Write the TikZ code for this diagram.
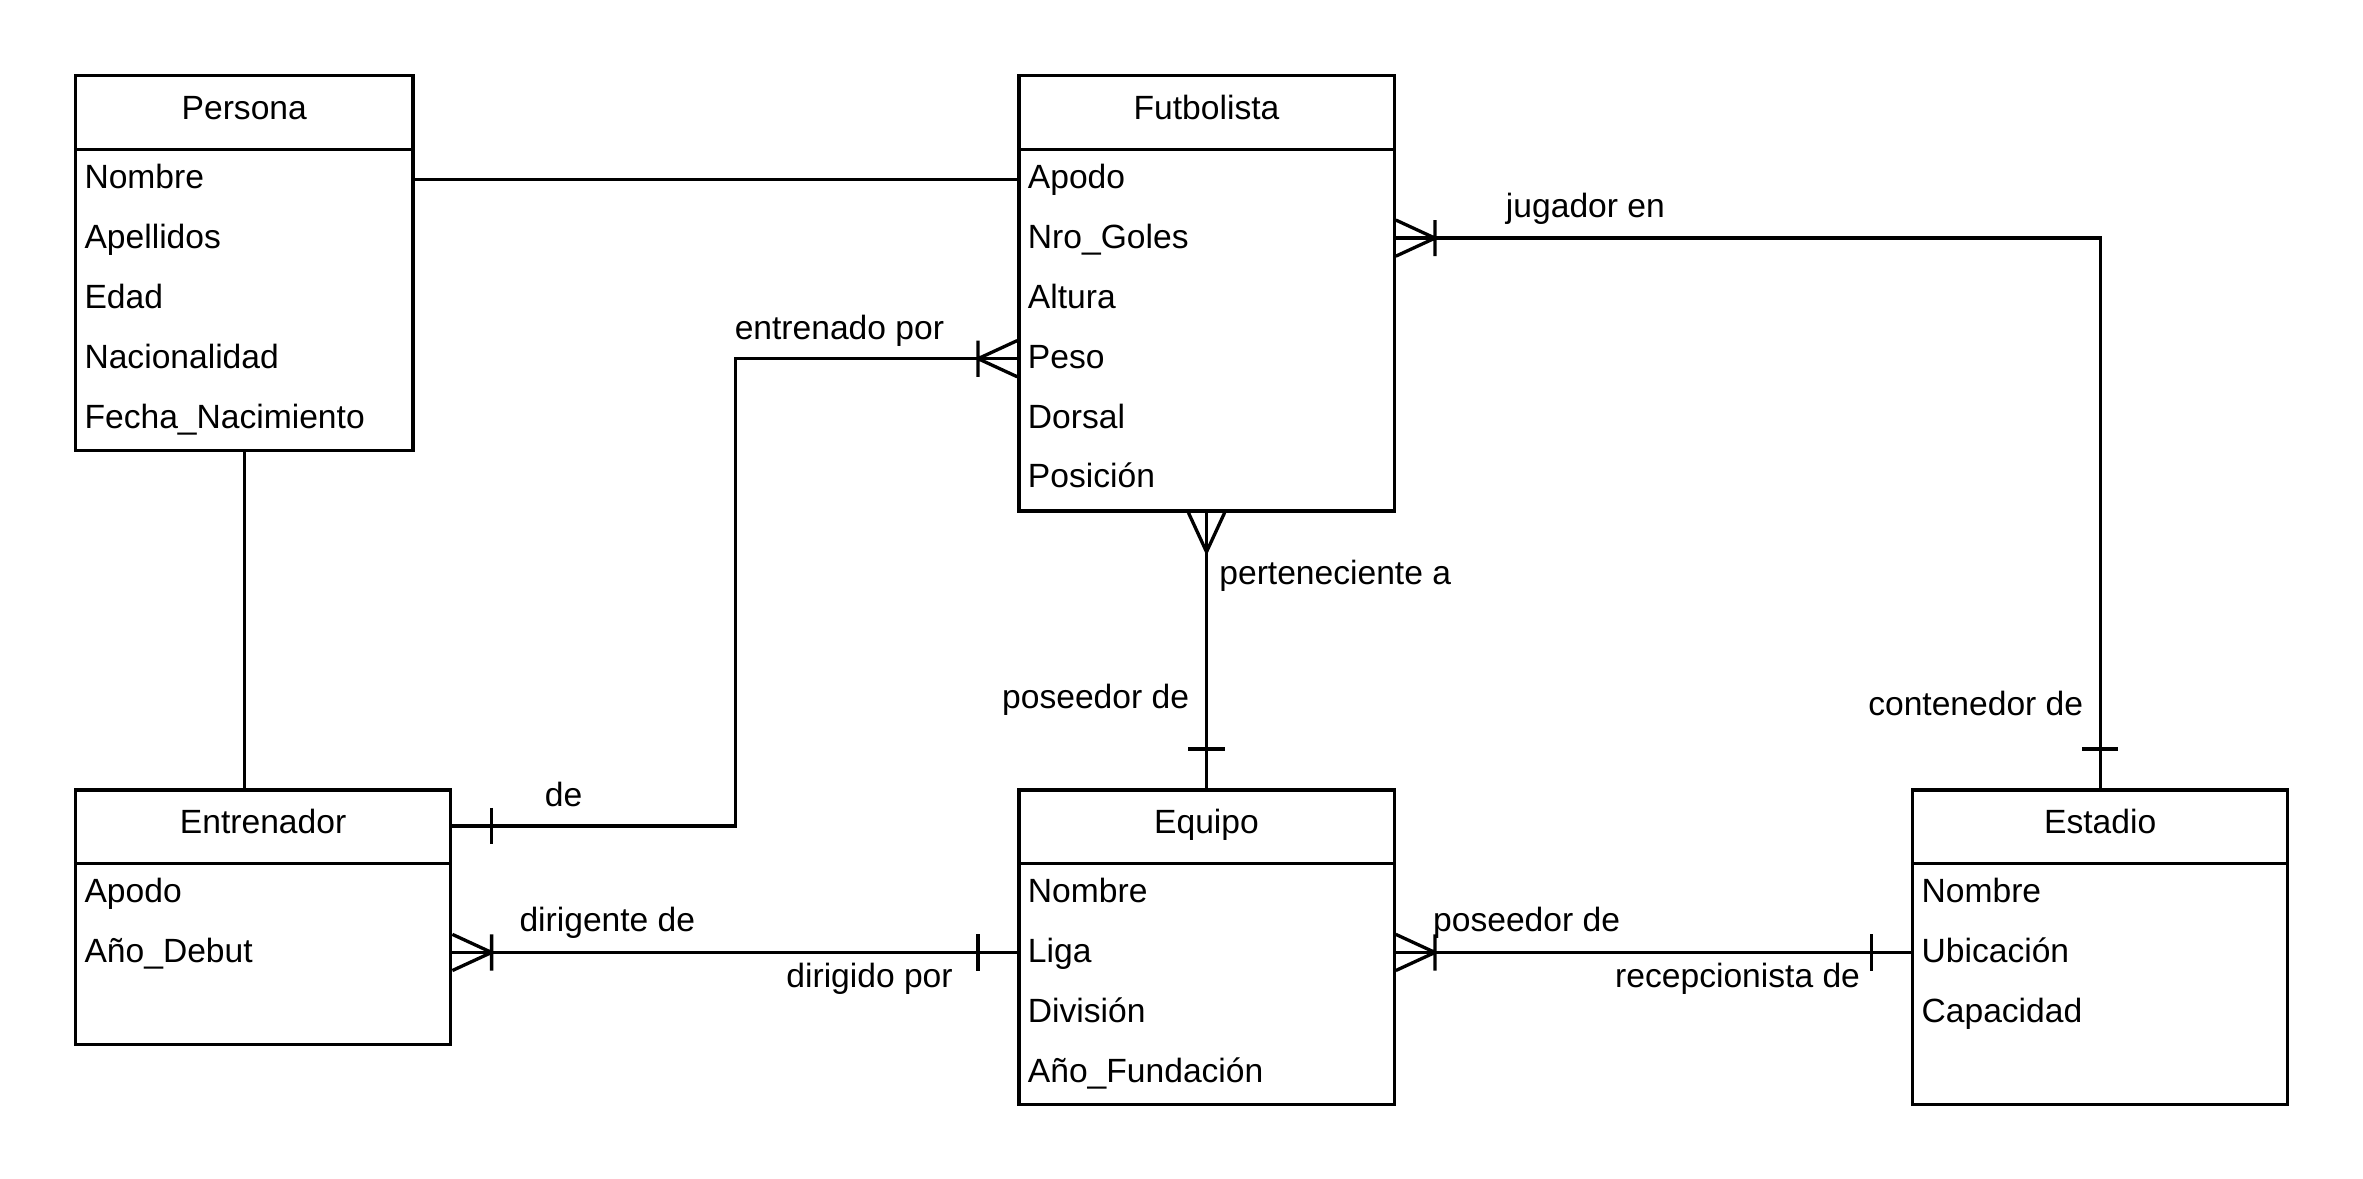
\documentclass[tikz,border=0pt]{standalone}
\usepackage{fontspec}
\setmainfont{Liberation Sans}
\usetikzlibrary{calc}
\newcommand\erfont{\fontsize{22.3}{26}\selectfont}
\begin{document}
\begin{tikzpicture}[x=1pt,y=-1pt,line width=2.2pt,
  every node/.style={font=\erfont, inner sep=0pt},
  ent/.style={draw, line width=2.2pt, anchor=north west, inner sep=0pt, minimum width=249pt},
  attr/.style={anchor=base west},
  ttl/.style={anchor=base},
  lbl/.style={anchor=base}]
\useasboundingbox (0,0) rectangle (1568,782.3);
\fill[white] (0,0) rectangle (1568,782.3);

% ---------- entities ----------
\node[ent, minimum width=224pt, minimum height=249pt] (persona) at (49,49) {};
\node[ent, minimum height=289pt] (futb) at (675,49) {};
\node[ent, minimum height=169pt] (entr) at (49,523) {};
\node[ent, minimum height=209pt] (equipo) at (675,523) {};
\node[ent, minimum height=209pt] (estadio) at (1268,523) {};

\foreach \e in {persona,futb,entr,equipo,estadio}
  \draw ([yshift=-50pt]\e.north west) -- ([yshift=-50pt]\e.north east);

\node[ttl] (personaT) at ([yshift=-30pt]persona.north) {Persona};
\node[ttl] (futbT) at ([yshift=-30pt]futb.north) {Futbolista};
\node[ttl] (entrT) at ([yshift=-30pt]entr.north) {Entrenador};
\node[ttl] (equipoT) at ([yshift=-30pt]equipo.north) {Equipo};
\node[ttl] (estadioT) at ([yshift=-30pt]estadio.north) {Estadio};

\foreach \t [count=\i from 0] in {Nombre,Apellidos,Edad,Nacionalidad,Fecha\_Nacimiento}
  \node[attr] (pa\i) at (55,125+39.75*\i) {\t};
\foreach \t [count=\i from 0] in {Apodo,Nro\_Goles,Altura,Peso,Dorsal,Posición}
  \node[attr] (fa\i) at (681,125+39.75*\i) {\t};
\foreach \t [count=\i from 0] in {Apodo,Año\_Debut}
  \node[attr] (ea\i) at (55,599+39.75*\i) {\t};
\foreach \t [count=\i from 0] in {Nombre,Liga,División,Año\_Fundación}
  \node[attr] (qa\i) at (681,599+39.75*\i) {\t};
\foreach \t [count=\i from 0] in {Nombre,Ubicación,Capacidad}
  \node[attr] (sa\i) at (1274,599+39.75*\i) {\t};

% ---------- connectors ----------
% Persona - Futbolista
\draw ([yshift=-70pt]persona.north east) -- ([yshift=-70pt]futb.north west);
% Persona - Entrenador
\draw (persona.south) -- (persona.south |- entr.north);

% Entrenador - Futbolista (entrenado por)
\coordinate (c3a) at ([yshift=-25pt]entr.north east);
\coordinate (c3b) at ([yshift=-189pt]futb.north west);
\draw (c3a) -- ++(188,0) |- (c3b);
\draw ([xshift=26pt,yshift=12pt]c3a) -- ([xshift=26pt,yshift=-12pt]c3a);
\draw ([xshift=-26pt]c3b) -- ([yshift=12pt]c3b)
      ([xshift=-26pt]c3b) -- ([yshift=-12pt]c3b)
      ([xshift=-26pt,yshift=12pt]c3b) -- ([xshift=-26pt,yshift=-12pt]c3b);

% Futbolista - Estadio (jugador en)
\coordinate (c4a) at ([yshift=-109pt]futb.north east);
\draw (c4a) -| (estadio.north);
\draw ([xshift=26pt]c4a) -- ([yshift=12pt]c4a)
      ([xshift=26pt]c4a) -- ([yshift=-12pt]c4a)
      ([xshift=26pt,yshift=12pt]c4a) -- ([xshift=26pt,yshift=-12pt]c4a);
\draw ([xshift=-12pt,yshift=26pt]estadio.north) -- ([xshift=12pt,yshift=26pt]estadio.north);

% Futbolista - Equipo (perteneciente a)
\draw (futb.south) -- (equipo.north);
\draw ([yshift=-26pt]futb.south) -- ([xshift=-12pt]futb.south)
      ([yshift=-26pt]futb.south) -- ([xshift=12pt]futb.south);
\draw ([xshift=-12pt,yshift=26pt]equipo.north) -- ([xshift=12pt,yshift=26pt]equipo.north);

% Entrenador - Equipo (dirigente de)
\coordinate (c6a) at ([yshift=-109pt]entr.north east);
\coordinate (c6b) at ([yshift=-109pt]equipo.north west);
\draw (c6a) -- (c6b);
\draw ([xshift=26pt]c6a) -- ([yshift=12pt]c6a)
      ([xshift=26pt]c6a) -- ([yshift=-12pt]c6a)
      ([xshift=26pt,yshift=12pt]c6a) -- ([xshift=26pt,yshift=-12pt]c6a);
\draw ([xshift=-26pt,yshift=12pt]c6b) -- ([xshift=-26pt,yshift=-12pt]c6b);

% Equipo - Estadio (poseedor de)
\coordinate (c7a) at ([yshift=-109pt]equipo.north east);
\coordinate (c7b) at ([yshift=-109pt]estadio.north west);
\draw (c7a) -- (c7b);
\draw ([xshift=26pt]c7a) -- ([yshift=12pt]c7a)
      ([xshift=26pt]c7a) -- ([yshift=-12pt]c7a)
      ([xshift=26pt,yshift=12pt]c7a) -- ([xshift=26pt,yshift=-12pt]c7a);
\draw ([xshift=-26pt,yshift=12pt]c7b) -- ([xshift=-26pt,yshift=-12pt]c7b);

% ---------- labels ----------
\node[lbl] (l1) at (557,225) {entrenado por};
\node[lbl] (l2) at (374,535) {de};
\node[lbl] (l3) at (1052,144) {jugador en};
\node[lbl] (l4) at (1311,475) {contenedor de};
\node[lbl] (l5) at (886,388) {perteneciente a};
\node[lbl] (l6) at (727,470) {poseedor de};
\node[lbl] (l7) at (403,618) {dirigente de};
\node[lbl] (l8) at (577,655) {dirigido por};
\node[lbl] (l9) at (1013,618) {poseedor de};
\node[lbl] (l10) at (1153,655) {recepcionista de};
\end{tikzpicture}
\end{document}
